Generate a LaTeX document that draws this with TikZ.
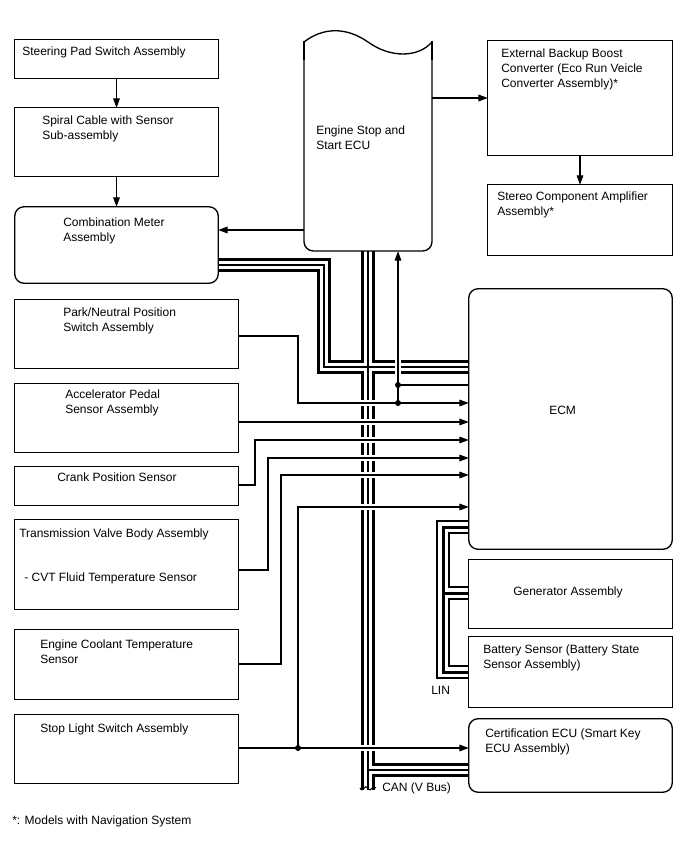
\documentclass[tikz,border=0pt]{standalone}
\usepackage{fontspec}
\setmainfont{Liberation Sans}
\usetikzlibrary{arrows.meta,fit}
\tikzset{
  box/.style={draw, line width=1pt, inner sep=0pt},
  rbox/.style={box, rounded corners=7pt},
  txt/.style={anchor=north west, inner sep=0pt, align=left, font=\fontsize{9}{11.25}\selectfont},
  sig/.style={line width=0.8pt},
  sigarr/.style={sig, -{Triangle[length=7pt,width=5pt]}},
  sigbg/.style={white, line width=5pt},
  canA/.style={black, line width=10.5pt},
  canB/.style={white, line width=6pt},
  canC/.style={black, line width=0.8pt},
  linA/.style={black, line width=10.5pt},
  linB/.style={white, line width=7.5pt},
  linC/.style={black, line width=2.25pt},
  dotmark/.style={circle, fill=black, inner sep=0pt, minimum size=4.5pt}
}
\begin{document}
\begin{tikzpicture}[x=0.75pt,y=-0.75pt]
\useasboundingbox (0,0) rectangle (688,852);

% ---------- box frames (invisible holders first, drawn last) ----------
\node[inner sep=0pt, fit={(15,40) (218,78)}] (spsw) {};
\node[inner sep=0pt, fit={(15,108) (218,176)}] (spiral) {};
\node[inner sep=0pt, fit={(15,207) (218,283)}] (cmeter) {};
\node[inner sep=0pt, fit={(304,33) (432,251)}] (ECU) {};
\node[inner sep=0pt, fit={(488,41) (672,155)}] (ext) {};
\node[inner sep=0pt, fit={(488,185) (672,255)}] (stereo) {};
\node[inner sep=0pt, fit={(469,289) (672,549)}] (ECM) {};
\node[inner sep=0pt, fit={(469,560) (672,628)}] (gen) {};
\node[inner sep=0pt, fit={(469,637) (672,707)}] (batt) {};
\node[inner sep=0pt, fit={(469,719) (672,792)}] (cert) {};
\node[inner sep=0pt, fit={(15,300) (238,368)}] (park) {};
\node[inner sep=0pt, fit={(15,384) (238,452)}] (accel) {};
\node[inner sep=0pt, fit={(15,467) (238,505)}] (crank) {};
\node[inner sep=0pt, fit={(15,520) (238,609)}] (trans) {};
\node[inner sep=0pt, fit={(15,630) (238,699)}] (cool) {};
\node[inner sep=0pt, fit={(15,715) (238,783)}] (stop) {};

% ---------- CAN bus ----------
\foreach \st in {canA,canB,canC}{
  \draw[\st] (cmeter.east |- 0,265) -- (324,265) -- (324,367) -- (ECM.west |- 0,367);
  \draw[\st] (ECU.south) -- (368,790);
  \draw[\st] (368,770) -- (cert.west |- 0,770);
}
\draw[line width=0.8pt] (360,788) .. controls (363,794) and (365,783) .. (368,788)
      .. controls (371,794) and (373,783) .. (376,788);

% ---------- LIN bus ----------
\foreach \st in {linA,linB,linC}{
  \draw[\st] (ECM.west |- 0,527) -- (443,527) -- (443,672) -- (batt.west |- 0,672);
  \draw[\st] (443,593) -- (gen.west |- 0,593);
}

% ---------- signal line backgrounds (gaps in the bus) ----------
\draw[sigbg] (park.east |- 0,336) -- (298,336) -- (298,403) -- (ECM.west |- 0,403);
\draw[sigbg] (accel.east |- 0,422) -- (ECM.west |- 0,422);
\draw[sigbg] (crank.east |- 0,485) -- (255,485) -- (255,440) -- (ECM.west |- 0,440);
\draw[sigbg] (trans.east |- 0,570) -- (268,570) -- (268,458) -- (ECM.west |- 0,458);
\draw[sigbg] (cool.east |- 0,664) -- (281,664) -- (281,475) -- (ECM.west |- 0,475);
\draw[sigbg] (stop.east |- 0,748) -- (cert.west |- 0,748);
\draw[sigbg] (298,748) -- (298,507) -- (ECM.west |- 0,507);
\draw[sigbg] (398,403) -- (398,256);

% ---------- signal lines ----------
\coordinate (jP) at (398,403);
\coordinate (jQ) at (398,385);
\coordinate (jS) at (298,748);
\draw[sigarr] (spsw.south) -- (spiral.north);
\draw[sigarr] (spiral.south) -- (cmeter.north);
\draw[sigarr] (ECU.west |- 0,230) -- (cmeter.east |- 0,230);
\draw[sigarr] (ECU.east |- 0,98) -- (ext.west |- 0,98);
\draw[sigarr] (ext.south) -- (stereo.north);
\draw[sigarr] (park.east |- 0,336) -- (298,336) -- (298,403) -- (ECM.west |- 0,403);
\draw[sigarr] (accel.east |- 0,422) -- (ECM.west |- 0,422);
\draw[sigarr] (crank.east |- 0,485) -- (255,485) -- (255,440) -- (ECM.west |- 0,440);
\draw[sigarr] (trans.east |- 0,570) -- (268,570) -- (268,458) -- (ECM.west |- 0,458);
\draw[sigarr] (cool.east |- 0,664) -- (281,664) -- (281,475) -- (ECM.west |- 0,475);
\draw[sigarr] (stop.east |- 0,748) -- (cert.west |- 0,748);
\draw[sigarr] (jS) -- (298,507) -- (ECM.west |- 0,507);
\draw[sigarr] (jP) -- (ECU.south -| jP);
\draw[sig] (jQ) -- (ECM.west |- jQ);
\node[dotmark] (dP) at (jP) {};
\node[dotmark] (dQ) at (jQ) {};
\node[dotmark] (dS) at (jS) {};

% ---------- box outlines ----------
\draw[box] (spsw.north west) rectangle (spsw.south east);
\draw[box] (spiral.north west) rectangle (spiral.south east);
\draw[rbox] (cmeter.north west) rectangle (cmeter.south east);
\draw[box] (ext.north west) rectangle (ext.south east);
\draw[box] (stereo.north west) rectangle (stereo.south east);
\draw[rbox] (ECM.north west) rectangle (ECM.south east);
\draw[box] (gen.north west) rectangle (gen.south east);
\draw[box] (batt.north west) rectangle (batt.south east);
\draw[rbox] (cert.north west) rectangle (cert.south east);
\draw[box] (park.north west) rectangle (park.south east);
\draw[box] (accel.north west) rectangle (accel.south east);
\draw[box] (crank.north west) rectangle (crank.south east);
\draw[box] (trans.north west) rectangle (trans.south east);
\draw[box] (cool.north west) rectangle (cool.south east);
\draw[box] (stop.north west) rectangle (stop.south east);
% Engine Stop and Start ECU (wavy top)
\draw[box, rounded corners=7pt] (432,42) -- (432,251) -- (304,251) -- (304,42);
\draw[box] (304,42) .. controls (322,28) and (345,26) .. (368,42)
      .. controls (390,58) and (418,58) .. (432,42);
\draw[box] (432,41) -- (432,60);
\draw[box] (304,41) -- (304,60);

% ---------- texts ----------
\node[txt] (t1) at (22,47) {Steering Pad Switch Assembly};
\node[txt] (t2) at (42,116) {Spiral Cable with Sensor\\Sub-assembly};
\node[txt] (t3) at (63,218) {Combination Meter\\Assembly};
\node[txt] (t4) at (316,126) {Engine Stop and\\Start ECU};
\node[txt] (t5) at (501,49) {External Backup Boost\\Converter (Eco Run Veicle\\Converter Assembly)*};
\node[txt] (t6) at (497,192) {Stereo Component Amplifier\\Assembly*};
\node[txt] (t7) at (549,406) {ECM};
\node[txt] (t8) at (63,308) {Park/Neutral Position\\Switch Assembly};
\node[txt] (t9) at (65,390) {Accelerator Pedal\\Sensor Assembly};
\node[txt] (t10) at (57,473) {Crank Position Sensor};
\node[txt] (t11) at (19,529) {Transmission Valve Body Assembly};
\node[txt] (t12) at (24,573) {- CVT Fluid Temperature Sensor};
\node[txt] (t13) at (40,640) {Engine Coolant Temperature\\Sensor};
\node[txt] (t14) at (40,724) {Stop Light Switch Assembly};
\node[txt] (t15) at (513,587) {Generator Assembly};
\node[txt] (t16) at (483,645) {Battery Sensor (Battery State\\Sensor Assembly)};
\node[txt] (t17) at (485,729) {Certification ECU (Smart Key\\ECU Assembly)};
\node[txt] (t18) at (431,686) {LIN};
\node[txt] (t19) at (382,783) {CAN (V Bus)};
\node[txt] (t20) at (12,816) {*: Models with Navigation System};
\end{tikzpicture}
\end{document}
